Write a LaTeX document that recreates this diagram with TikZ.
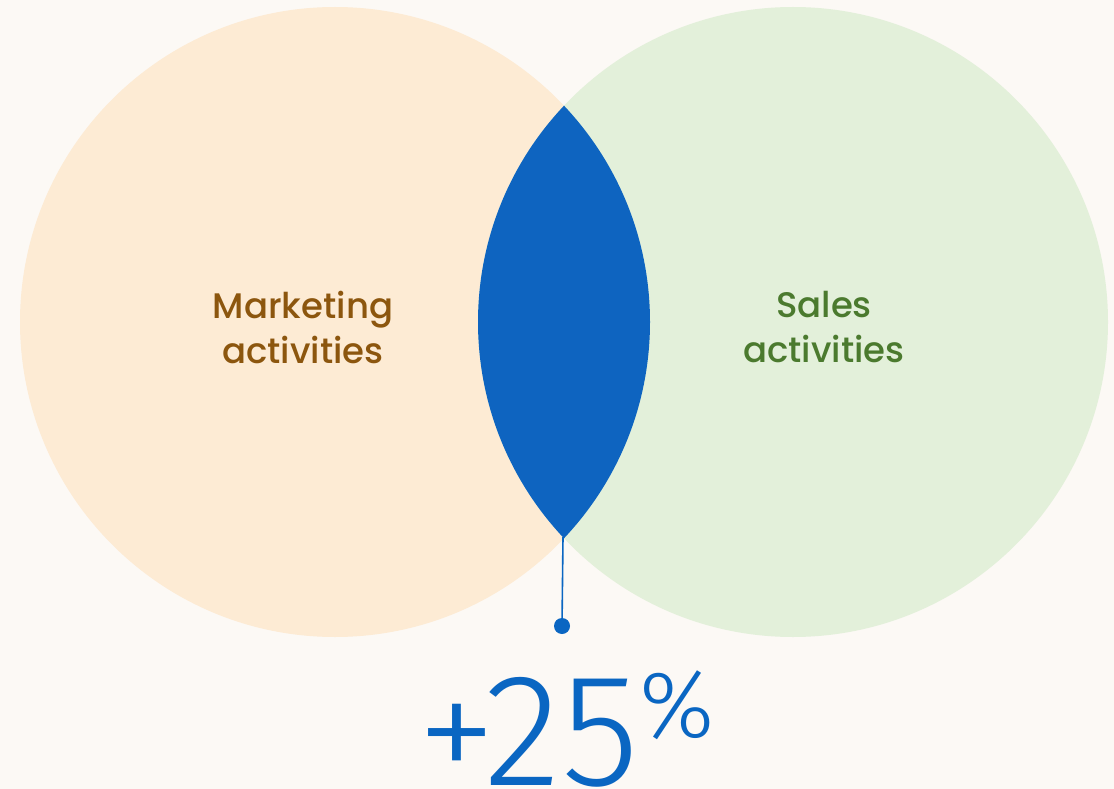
\documentclass[tikz,border=0pt]{standalone}
\usepackage{fontspec}
\setmainfont{Poppins}
\newfontfamily\lblfont{Poppins Medium}
\newfontfamily\numfont{Fira Sans Light}
\definecolor{bgc}{HTML}{FCF9F5}
\definecolor{mkfill}{HTML}{FDEBD4}
\definecolor{slfill}{HTML}{E3F0DA}
\definecolor{lensc}{HTML}{0E64C0}
\definecolor{mktext}{HTML}{8C560E}
\definecolor{sltext}{HTML}{4B7A2E}
\definecolor{numc}{HTML}{0A66C2}
\tikzset{
  setcircle/.style={circle, minimum size=630pt, inner sep=0pt},
  lbl/.style={align=center, font=\lblfont\fontsize{35.5}{45}\selectfont},
}
\begin{document}
\begin{tikzpicture}[x=1pt,y=1pt]
\useasboundingbox (0,0) rectangle (1114,-789);
\fill[bgc] (0,0) rectangle (1114,-789);
\node[setcircle, fill=mkfill] (mk) at (335,-322) {};
\node[setcircle, fill=slfill] (sl) at (793,-322) {};
\begin{scope}
  \clip (335,-322) circle (315);
  \fill[lensc] (793,-322) circle (315);
\end{scope}
\node[lbl, text=mktext] (mklbl) at (303,-327) {Marketing\\activities};
\node[lbl, text=sltext] (sllbl) at (824,-327) {Sales\\activities};
\coordinate (lensbot) at (563,-537);
\node[circle, fill=numc, inner sep=0pt, minimum size=16pt] (dot) at (562,-626) {};
\draw[numc, line width=1.6pt] (lensbot) -- (dot);
\node[anchor=base, text=numc, inner sep=0pt, font=\numfont\fontsize{160}{160}\selectfont] (pct) at (566,-785) {+25\raisebox{0.3em}{\fontsize{95}{95}\selectfont\%}};
\end{tikzpicture}
\end{document}
